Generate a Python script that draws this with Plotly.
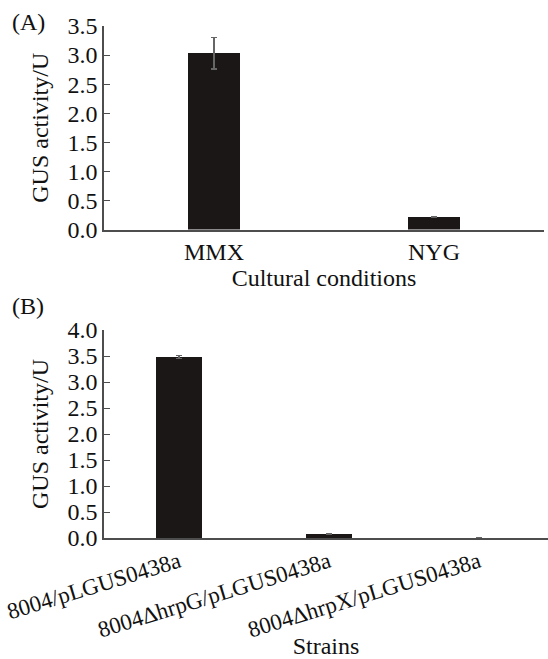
import plotly.graph_objects as go

# Panel A data
cond_labels = ["MMX", "NYG"]
cond_values = [3.03, 0.22]
cond_errors = [0.27, 0.005]

# Panel B data
strain_labels = ["8004/pLGUS0438a", "8004\u0394hrpG/pLGUS0438a", "8004\u0394hrpX/pLGUS0438a"]
strain_values = [3.48, 0.07, 0.0]
strain_errors = [0.03, 0.01, 0.0]

W, H = 548, 659
FONT = "Liberation Serif"
FS = 24
BAR = "#1a1716"
AX = "#4d4d4d"

def px_x(p):
    return p / W

def px_y(p):
    return 1 - p / H

fig = go.Figure()
fig.add_trace(go.Bar(
    x=cond_labels, y=cond_values, width=0.24, marker_color=BAR,
    marker_line_width=0,
    error_y=dict(type="data", array=cond_errors, color="#666666", thickness=1.2, width=3),
    xaxis="x", yaxis="y", showlegend=False))
fig.add_trace(go.Bar(
    x=strain_labels, y=strain_values, width=0.31, marker_color=BAR,
    marker_line_width=0,
    error_y=dict(type="data", array=strain_errors, color="#666666", thickness=1.2, width=3),
    xaxis="x2", yaxis="y2", showlegend=False))

tickfont = dict(family=FONT, size=FS, color="#111111")
axis_common = dict(showline=True, linecolor=AX, linewidth=1.5, showgrid=False, zeroline=False,
                   automargin=False)

fig.update_layout(
    width=W, height=H,
    margin=dict(l=0, r=0, t=0, b=0),
    paper_bgcolor="white", plot_bgcolor="white",
    font=dict(family=FONT, size=FS, color="#111111"),
    bargap=0,
    xaxis=dict(domain=[px_x(104), px_x(544)], anchor="y", ticks="", range=[-0.5, 1.5],
               tickfont=tickfont, **axis_common,
               title=dict(text="Cultural conditions", font=dict(family=FONT, size=FS), standoff=0)),
    yaxis=dict(domain=[px_y(229.5), px_y(26)], anchor="x", range=[0, 3.5], dtick=0.5, tickformat=".1f",
               ticks="inside", ticklen=6, tickcolor=AX, tickwidth=1.2, tickfont=tickfont, **axis_common,
               title=dict(text="GUS activity/U", font=dict(family=FONT, size=FS), standoff=12)),
    xaxis2=dict(domain=[px_x(104), 1.0], anchor="y2", ticks="", tickangle=-17, range=[-0.5, 2.46],
                tickfont=dict(family=FONT, size=23, color="#111111"), **axis_common,
                title=dict(text="Strains", font=dict(family=FONT, size=FS), standoff=2)),
    yaxis2=dict(domain=[px_y(538), px_y(330)], anchor="x2", range=[0, 4.0], dtick=0.5, tickformat=".1f",
                ticks="inside", ticklen=6, tickcolor=AX, tickwidth=1.2, tickfont=tickfont, **axis_common,
                title=dict(text="GUS activity/U", font=dict(family=FONT, size=FS), standoff=12)),
    annotations=[
        dict(text="(A)", x=px_x(10), y=px_y(22), xref="paper", yref="paper", xanchor="left",
             yanchor="middle", showarrow=False, font=dict(family=FONT, size=FS)),
        dict(text="(B)", x=px_x(10), y=px_y(306), xref="paper", yref="paper", xanchor="left",
             yanchor="middle", showarrow=False, font=dict(family=FONT, size=FS)),
    ],
)

fig.write_html("out.html")
